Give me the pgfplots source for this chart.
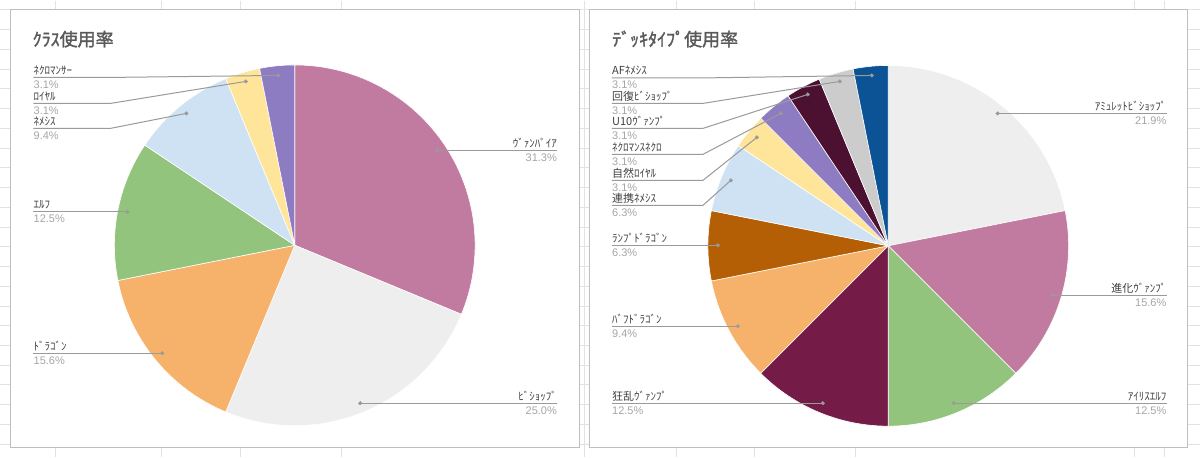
\documentclass[border=0pt]{standalone}
\usepackage{pgfplots}
\pgfplotsset{compat=1.18}
\usepackage{fontspec}
\setmainfont{Liberation Sans}
\newfontfamily\jp{Noto Sans CJK JP}
\newfontfamily\jpb[FakeBold=1.6]{Noto Sans CJK JP}

\definecolor{gridc}{HTML}{E2E2E2}
\definecolor{boxc}{HTML}{BFBFBF}
\definecolor{titlec}{HTML}{595959}
\definecolor{namec}{HTML}{404040}
\definecolor{pctc}{HTML}{A6A6A6}
\definecolor{leadc}{HTML}{9A9A9A}
% slice colours
\definecolor{cVamp}{HTML}{C27BA0}
\definecolor{cBish}{HTML}{EEEEEE}
\definecolor{cDrag}{HTML}{F6B26B}
\definecolor{cElf}{HTML}{93C47D}
\definecolor{cNeme}{HTML}{CFE2F3}
\definecolor{cRoya}{HTML}{FFE599}
\definecolor{cNecr}{HTML}{8E7CC3}
\definecolor{cKyo}{HTML}{741B47}
\definecolor{cRamp}{HTML}{B45F06}
\definecolor{cUten}{HTML}{4C1130}
\definecolor{cHeal}{HTML}{CCCCCC}
\definecolor{cAF}{HTML}{0B5394}

% slice: {cx}{cy}{count before}{count}{colour}; 32 decks in total, clockwise from 12 o'clock
\newcommand\slice[5]{%
  \pgfmathsetmacro\sa{90-360*(#3+#4)/32}%
  \pgfmathsetmacro\sb{90-360*(#3)/32}%
  \edef\doslice{\noexpand\addplot[fill=#5, draw=white, line width=0.6pt, domain=\sa:\sb, samples=90, variable=\noexpand\t]
    ({#1+180.5*cos(\noexpand\t)},{#2-180.5*sin(\noexpand\t)}) -- (axis cs:#1,#2) -- cycle;}%
  \doslice}

\newcommand\nfont{\jp\fontsize{11}{13}\selectfont}
\newcommand\pfont{\fontsize{11}{13}\selectfont}
% label: {anchor side}{x}{line y}{name}{percent}
\newcommand\lab[5]{%
  \node[anchor=base #1, inner sep=0pt, text=namec, font=\nfont, yshift=3pt] at (axis cs:#2,#3) {#4};
  \node[anchor=base #1, inner sep=0pt, text=pctc, font=\pfont, yshift=-11pt] at (axis cs:#2,#3) {#5};}

\begin{document}
\begin{tikzpicture}
\begin{axis}[hide axis, scale only axis, width=1200pt, height=457pt,
  xmin=0, xmax=1200, ymin=0, ymax=457, y dir=reverse, clip=false]
\fill[white] (axis cs:0,0) rectangle (axis cs:1200,457);
% spreadsheet grid
\pgfplotsinvokeforeach{55,161,240,341,584,677,755,856,1135,1165}{
  \draw[gridc, line width=1pt] (axis cs:#1,0) -- (axis cs:#1,457);}
\pgfplotsinvokeforeach{9.5,29.25,49,68.75,88.5,108.25,128,147.75,167.5,187.25,207,226.75,246.5,266.25,286,305.75,325.5,345.25,365,384.75,404.5,424.25,444}{
  \draw[gridc, line width=1pt] (axis cs:0,#1) -- (axis cs:1200,#1);}
% chart frames
\draw[boxc, fill=white, line width=1pt] (axis cs:10,9.5) rectangle (axis cs:579,447);
\draw[boxc, fill=white, line width=1pt] (axis cs:589,9.5) rectangle (axis cs:1188,447);

% ---------- left: class usage (counts out of 32) ----------
\slice{294.5}{245}{0}{10}{cVamp}
\slice{294.5}{245}{10}{8}{cBish}
\slice{294.5}{245}{18}{5}{cDrag}
\slice{294.5}{245}{23}{4}{cElf}
\slice{294.5}{245}{27}{3}{cNeme}
\slice{294.5}{245}{30}{1}{cRoya}
\slice{294.5}{245}{31}{1}{cNecr}

\node[anchor=base west, inner sep=0pt, text=titlec, font=\jpb\fontsize{18}{21}\selectfont] at (axis cs:32,45.5) {ｸﾗｽ使用率};

\addplot[leadc, line width=1pt, mark=none] coordinates {(33,77) (110,77) (278,75)};
\addplot[leadc, line width=1pt, mark=none] coordinates {(33,103) (110,103) (245.5,81)};
\addplot[leadc, line width=1pt, mark=none] coordinates {(33,128) (110,128) (186,113)};
\addplot[leadc, line width=1pt, mark=none] coordinates {(33,211.5) (127,211.5)};
\addplot[leadc, line width=1pt, mark=none] coordinates {(33,353) (162,353)};
\addplot[leadc, line width=1pt, mark=none] coordinates {(437,150) (557,150)};
\addplot[leadc, line width=1pt, mark=none] coordinates {(360,403) (557,403)};
\addplot[only marks, mark=*, mark size=1.8pt, leadc] coordinates {(278,75) (245.5,81) (186,113) (127,211.5) (162,353) (437,150) (360,403)};

\lab{west}{33}{77}{ﾈｸﾛﾏﾝｻｰ}{3.1\%}
\lab{west}{33}{103}{ﾛｲﾔﾙ}{3.1\%}
\lab{west}{33}{128}{ﾈﾒｼｽ}{9.4\%}
\lab{west}{33}{211.5}{ｴﾙﾌ}{12.5\%}
\lab{west}{33}{353}{ﾄﾞﾗｺﾞﾝ}{15.6\%}
\lab{east}{557}{150}{ｳﾞｧﾝﾊﾟｲｱ}{31.3\%}
\lab{east}{557}{403}{ﾋﾞｼｮｯﾌﾟ}{25.0\%}

% ---------- right: deck type usage (counts out of 32) ----------
\slice{888.5}{245.5}{0}{7}{cBish}
\slice{888.5}{245.5}{7}{5}{cVamp}
\slice{888.5}{245.5}{12}{4}{cElf}
\slice{888.5}{245.5}{16}{4}{cKyo}
\slice{888.5}{245.5}{20}{3}{cDrag}
\slice{888.5}{245.5}{23}{2}{cRamp}
\slice{888.5}{245.5}{25}{2}{cNeme}
\slice{888.5}{245.5}{27}{1}{cRoya}
\slice{888.5}{245.5}{28}{1}{cNecr}
\slice{888.5}{245.5}{29}{1}{cUten}
\slice{888.5}{245.5}{30}{1}{cHeal}
\slice{888.5}{245.5}{31}{1}{cAF}

\node[anchor=base west, inner sep=0pt, text=titlec, font=\jpb\fontsize{18}{21}\selectfont] at (axis cs:612,45.5) {ﾃﾞｯｷﾀｲﾌﾟ使用率};

\addplot[leadc, line width=1pt, mark=none] coordinates {(612,77.5) (703,77.5) (872,75)};
\addplot[leadc, line width=1pt, mark=none] coordinates {(612,103) (703,103) (840,81)};
\addplot[leadc, line width=1pt, mark=none] coordinates {(612,128) (703,128) (808,94)};
\addplot[leadc, line width=1pt, mark=none] coordinates {(612,154) (703,154) (781,113)};
\addplot[leadc, line width=1pt, mark=none] coordinates {(612,180) (703,180) (757,137)};
\addplot[leadc, line width=1pt, mark=none] coordinates {(612,205) (703,205) (731,180)};
\addplot[leadc, line width=1pt, mark=none] coordinates {(612,245) (718,245)};
\addplot[leadc, line width=1pt, mark=none] coordinates {(612,326) (738,326)};
\addplot[leadc, line width=1pt, mark=none] coordinates {(612,403) (823,403)};
\addplot[leadc, line width=1pt, mark=none] coordinates {(998,113) (1167,113)};
\addplot[leadc, line width=1pt, mark=none] coordinates {(1053,295) (1167,295)};
\addplot[leadc, line width=1pt, mark=none] coordinates {(954,403) (1167,403)};
\addplot[only marks, mark=*, mark size=1.8pt, leadc] coordinates {(872,75) (840,81) (808,94) (781,113) (757,137) (731,180) (718,245) (738,326) (823,403) (998,113) (1053,295) (954,403)};

\lab{west}{612}{77.5}{AFﾈﾒｼｽ}{3.1\%}
\lab{west}{612}{103}{回復ﾋﾞｼｮｯﾌﾟ}{3.1\%}
\lab{west}{612}{128}{U10ｳﾞｧﾝﾌﾟ}{3.1\%}
\lab{west}{612}{154}{ﾈｸﾛﾏﾝｽﾈｸﾛ}{3.1\%}
\lab{west}{612}{180}{自然ﾛｲﾔﾙ}{3.1\%}
\lab{west}{612}{205}{連携ﾈﾒｼｽ}{6.3\%}
\lab{west}{612}{245}{ﾗﾝﾌﾟﾄﾞﾗｺﾞﾝ}{6.3\%}
\lab{west}{612}{326}{ﾊﾞﾌﾄﾞﾗｺﾞﾝ}{9.4\%}
\lab{west}{612}{403}{狂乱ｳﾞｧﾝﾌﾟ}{12.5\%}
\lab{east}{1167}{113}{ｱﾐｭﾚｯﾄﾋﾞｼｮｯﾌﾟ}{21.9\%}
\lab{east}{1167}{295}{進化ｳﾞｧﾝﾌﾟ}{15.6\%}
\lab{east}{1167}{403}{ｱｲﾘｽｴﾙﾌ}{12.5\%}
\end{axis}
\end{tikzpicture}
\end{document}
